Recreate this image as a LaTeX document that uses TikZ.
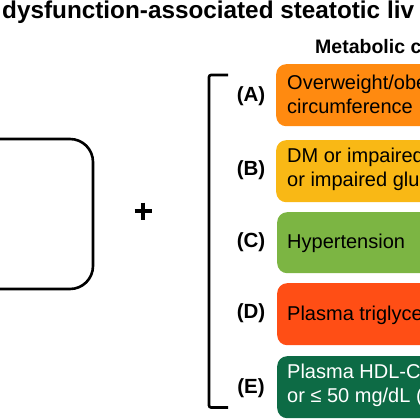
\documentclass[tikz,border=0pt]{standalone}
\usepackage{fontspec}
\setmainfont{Liberation Sans}
\definecolor{cA}{HTML}{FF8A10}
\definecolor{cB}{HTML}{F9B815}
\definecolor{cC}{HTML}{7CB543}
\definecolor{cD}{HTML}{FF4E15}
\definecolor{cE}{HTML}{0D6B45}
\tikzset{
  box/.style={anchor=north west, rounded corners=10pt, minimum width=170pt, minimum height=62pt, inner sep=0pt, draw=none},
  boxtext/.style={anchor=base west, inner sep=0pt, font=\fontsize{20}{24}\selectfont},
  lbl/.style={anchor=center, inner sep=0pt, font=\fontsize{20.5}{24}\selectfont\bfseries},
  title/.style={anchor=base west, inner sep=0pt, font=\fontsize{24.3}{28}\selectfont\bfseries},
  sub/.style={anchor=base west, inner sep=0pt, font=\fontsize{19.5}{23}\selectfont\bfseries},
  frame/.style={line width=2.6pt, black}
}
\begin{document}
\begin{tikzpicture}[x=1pt,y=-1pt]
\useasboundingbox (0,0) rectangle (420,420);
\clip (0,0) rectangle (420,420);
\node[title] (t) at (2,18.5) {dysfunction-associated steatotic liv};
\node[sub] (m) at (315,53) {Metabolic c};
% left box
\draw[frame, rounded corners=23pt] (-40,139) rectangle (93,289);
% plus
\coordinate (p1) at (134.5,211);
\coordinate (p2) at (151.5,211);
\coordinate (p3) at (143,202.5);
\coordinate (p4) at (143,219.5);
\draw[line width=4.5pt] (p1) -- (p2);
\draw[line width=4.5pt] (p3) -- (p4);
% bracket
\coordinate (bt) at (228,75);
\coordinate (bb) at (228,407.5);
\draw[frame, rounded corners=2pt] (bt) -- (209,75) -- (209,407.5) -- (bb);
% boxes
\node[box, fill=cA] (A) at (276,64) {};
\node[box, fill=cB] (B) at (276,140) {};
\node[box, fill=cC, minimum height=61pt] (C) at (277,212) {};
\node[box, fill=cD] (D) at (277,283) {};
\node[box, fill=cE] (E) at (277,356) {};
% labels
\node[lbl] (lA) at (251,96) {(A)};
\node[lbl] (lB) at (251,170) {(B)};
\node[lbl] (lC) at (251,242) {(C)};
\node[lbl] (lD) at (251,313) {(D)};
\node[lbl] (lE) at (251,388) {(E)};
% texts
\node[boxtext] (a1) at (287,89) {Overweight/obe};
\node[boxtext] (a2) at (287,113) {circumference};
\node[boxtext] (b1) at (287,162) {DM or impaired};
\node[boxtext] (b2) at (287,186) {or impaired glu};
\node[boxtext] (c1) at (287,248) {Hypertension};
\node[boxtext] (d1) at (287,320) {Plasma triglyce};
\node[boxtext, text=white] (e1) at (287,378) {Plasma HDL-C};
\node[boxtext, text=white] (e2) at (287,402) {or ≤ 50 mg/dL (};
\end{tikzpicture}
\end{document}
